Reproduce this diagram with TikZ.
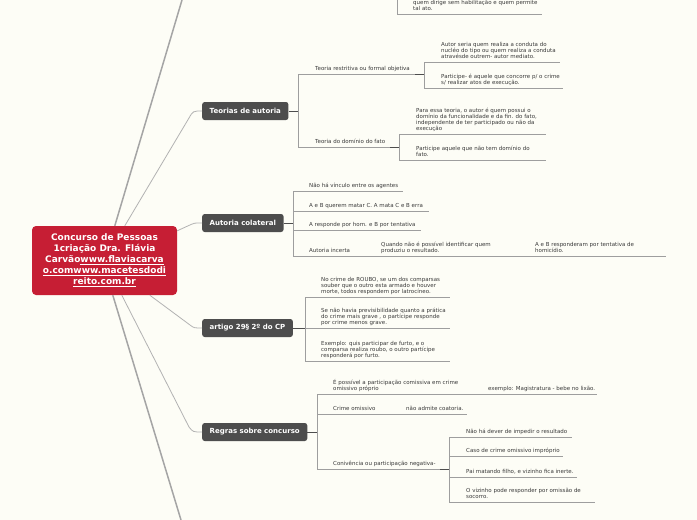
\documentclass[tikz,border=0pt]{standalone}
\usepackage{fontspec}
\setmainfont{DejaVu Sans}
\usetikzlibrary{calc}
\definecolor{bgc}{RGB}{253,253,246}
\definecolor{topicgray}{RGB}{77,77,77}
\definecolor{rootred}{RGB}{198,30,52}
\definecolor{leaftext}{RGB}{58,58,58}
\definecolor{leafline}{RGB}{158,158,158}
\definecolor{connc}{RGB}{178,178,178}
\definecolor{mainc}{RGB}{165,165,165}
\begin{document}
\begin{tikzpicture}[x=1pt,y=-1pt,
  leaf/.style={anchor=south west, inner sep=0pt, text depth=0pt, align=left,
    font=\fontsize{5.5}{6.1}\selectfont, text=leaftext},
  topic/.style={anchor=west, fill=topicgray, rounded corners=2.5pt, text=white,
    font=\fontsize{7}{8}\selectfont\bfseries, inner xsep=7.5pt, inner ysep=0pt, minimum height=18pt},
  rootbox/.style={fill=rootred, rounded corners=4pt, minimum width=145pt, minimum height=69pt,
    text=white, font=\fontsize{9}{11}\selectfont\bfseries, align=center, inner sep=0pt},
  uline/.style={draw=leafline, line width=0.6pt},
  stub/.style={draw=topicgray, line width=1pt},
  connline/.style={draw=connc, line width=0.8pt},
  mainbranch/.style={draw=mainc, line width=1.5pt}]
\useasboundingbox (0,0) rectangle (697,520);
\fill[bgc] (0,0) rectangle (697,520);
\clip (0,0) rectangle (697,520);

% root
\node[rootbox] (c) at (104.5,260.5) {Concurso de Pessoas\\1criação Dra. Flávia\\Carvão\underline{www.flaviacarva}\\\underline{o.comwww.macetesdodi}\\\underline{reito.com.br}};

% topics
\node[topic] (t1) at (202,111) {Teorias de autoria};
\node[topic] (t2) at (202,223) {Autoria colateral};
\node[topic] (t3) at (202,328) {artigo 29§ 2º do CP};
\node[topic] (t4) at (202,432) {Regras sobre concurso};

% main branches off-picture
\coordinate (topend) at (182,0);
\coordinate (botend) at (181,520);
\draw[mainbranch] ($(c.north west)+(83,0)$) -- (topend);
\draw[mainbranch] ($(c.south west)+(81,0)$) -- (botend);

% connectors root -> topics
\draw[connline] ($(c.north west)+(93,0)$) -- (189,118) .. controls (193,111) .. (t1.west);
\draw[connline] ($(c.north east)+(0,5)$) -- (191,224.5) .. controls (194,223) .. (t2.west);
\draw[connline] ($(c.south west)+(118,0)$) -- (190,325) .. controls (194,328) .. (t3.west);
\draw[connline] ($(c.south west)+(90,0)$) -- (189,427) .. controls (193,432) .. (t4.west);

% top partial leaf
\draw[uline] (397,0) -- (397,14) -- (542,14);
\node[leaf] (p0) at (413,10.5) {quem dirige sem habilitação e quem permite\\tal ato.};

% ---- Teorias de autoria
\coordinate (j1) at (298,111);
\draw[stub] (t1.east) -- (j1);
\draw[uline] (298,74) -- (298,147);
\draw[uline] (298,74) -- (415,74);
\draw[stub] (415,74) -- (424,74);
\node[leaf] (a1) at (315,70.5) {Teoria restritiva ou formal objetiva};
\draw[uline] (424,62) -- (424,88);
\draw[uline] (424,62) -- (560,62);
\node[leaf] (a11) at (441,58.5) {Autor seria quem realiza a conduta do\\nucléo do tipo ou quem realiza a conduta\\atravésde outrem- autor mediato.};
\draw[uline] (424,88) -- (563,88);
\node[leaf] (a12) at (441,84.5) {Participe- é aquele que concorre p/ o crime\\s/ realizar atos de execução.};
\draw[uline] (298,147) -- (390,147);
\draw[stub] (390,147) -- (399,147);
\node[leaf] (a2) at (315,143.5) {Teoria do domínio do fato};
\draw[uline] (399,134) -- (399,160);
\draw[uline] (399,134) -- (546,134);
\node[leaf] (a21) at (416,130.5) {Para essa teoria, o autor é quem possui o\\domínio da funcionalidade e da fin. do fato,\\independente de ter participado ou não da\\execução};
\draw[uline] (399,160) -- (546,160);
\node[leaf] (a22) at (416,156.5) {Participe aquele que não tem domínio do\\fato.};

% ---- Autoria colateral
\coordinate (j2) at (293,223);
\draw[stub] (t2.east) -- (j2);
\draw[uline] (293,191) -- (293,256);
\draw[uline] (293,191) -- (403,191);
\node[leaf] (b1) at (309,187.5) {Não há vínculo entre os agentes};
\draw[uline] (293,211) -- (429,211);
\node[leaf] (b2) at (309,207.5) {A e B querem matar C. A mata C e B erra};
\draw[uline] (293,230) -- (421,230);
\node[leaf] (b3) at (309,226.5) {A responde por hom. e B por tentativa};
\draw[uline] (293,256) -- (666,256);
\node[leaf] (b4) at (309,252.5) {Autoria incerta};
\node[leaf] (b41) at (381,252.5) {Quando não é possível identificar quem\\produziu o resultado.};
\node[leaf] (b411) at (535,252.5) {A e B responderam por tentativa de\\homicídio.};

% ---- artigo 29
\coordinate (j3) at (305,328);
\draw[stub] (t3.east) -- (j3);
\draw[uline] (305,297) -- (305,361);
\draw[uline] (305,297) -- (450,297);
\node[leaf] (d1) at (321,293.5) {No crime de ROUBO, se um dos comparsas\\souber que o outro esta armado e houver\\morte, todos respondem por latrocíneo.};
\draw[uline] (305,328) -- (450,328);
\node[leaf] (d2) at (321,324.5) {Se não havia previsibilidade quanto a prática\\do crime mais grave , o partícipe responde\\por crime menos grave.};
\draw[uline] (305,361) -- (450,361);
\node[leaf] (d3) at (321,357.5) {Exemplo: quis participar de furto, e o\\comparsa realiza roubo, o outro partícipe\\responderá por furto.};

% ---- Regras sobre concurso
\coordinate (j4) at (317,432);
\draw[stub] (t4.east) -- (j4);
\draw[uline] (317,394) -- (317,469);
\draw[uline] (317,394) -- (597,394);
\node[leaf] (e1) at (333,390.5) {É possível a participação comissiva em crime\\omissivo próprio};
\node[leaf] (e11) at (488,390.5) {exemplo: Magistratura - bebe no lixão.};
\draw[uline] (317,414) -- (467,414);
\node[leaf] (e2) at (333,410.5) {Crime omissivo};
\node[leaf] (e21) at (406,410.5) {não admite coatoria.};
\draw[uline] (317,469) -- (440,469);
\draw[stub] (440,469) -- (449,469);
\node[leaf] (e3) at (333,465.5) {Conivência ou participação negativa-};
\draw[uline] (449,437) -- (449,502);
\draw[uline] (449,437) -- (572,437);
\node[leaf] (e31) at (466,433.5) {Não há dever de impedir o resultado};
\draw[uline] (449,456) -- (563,456);
\node[leaf] (e32) at (466,452.5) {Caso de crime omissivo impróprio};
\draw[uline] (449,477) -- (577,477);
\node[leaf] (e33) at (466,473.5) {Pai matando filho, e vizinho fica inerte.};
\draw[uline] (449,502) -- (595,502);
\node[leaf] (e34) at (466,498.5) {O vizinho pode responder por omissão de\\socorro.};
\end{tikzpicture}
\end{document}
